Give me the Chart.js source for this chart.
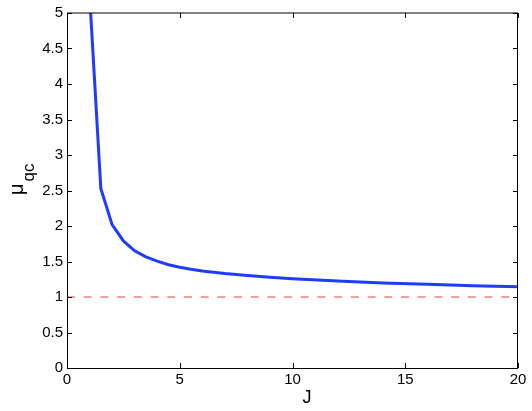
<!DOCTYPE html>
<html><head><meta charset="utf-8">
<script src="https://cdn.jsdelivr.net/npm/chart.js@4/dist/chart.umd.min.js"></script>
<style>html,body{margin:0;padding:0;background:#fff;}canvas{display:block;}</style>
</head><body>
<canvas id="c" width="532" height="411"></canvas>
<script>
// ---- data ----
const jValues  = [1, 1.5, 2, 2.5, 3, 3.5, 4, 4.5, 5, 5.5, 6, 7, 8, 9, 10, 12, 14, 16, 18, 20];
const muValues = [5.27, 2.53, 2.02, 1.79, 1.65, 1.565, 1.505, 1.455, 1.42, 1.39, 1.365, 1.33, 1.303, 1.278, 1.258, 1.225, 1.198, 1.178, 1.16, 1.143];
const refJ  = [0, 20];
const refMu = [1, 1];
const xTicks = [0, 5, 10, 15, 20];
const yTicks = [0, 0.5, 1, 1.5, 2, 2.5, 3, 3.5, 4, 4.5, 5];
const xTitle = 'J';
const yTitleMain = 'μ';
const yTitleSub = 'qc';

const FONT = '"Liberation Sans", Arial, Helvetica, sans-serif';

const toPts = (xs, ys) => xs.map((x, i) => ({x: x, y: ys[i]}));

const framePlugin = {
  id: 'frame',
  afterDraw(chart) {
    const ctx = chart.ctx;
    const a = chart.chartArea;
    const xs = chart.scales.x, ys = chart.scales.y;
    ctx.save();
    ctx.strokeStyle = '#000';
    ctx.lineWidth = 1;
    ctx.beginPath();
    ctx.moveTo(a.left + 0.5, a.top); ctx.lineTo(a.left + 0.5, a.bottom + 1);
    ctx.moveTo(a.left, a.bottom + 0.5); ctx.lineTo(a.right, a.bottom + 0.5);
    ctx.moveTo(a.right - 0.5, a.top); ctx.lineTo(a.right - 0.5, a.bottom + 1);
    ctx.moveTo(a.left, a.top); ctx.lineTo(a.right, a.top);
    ctx.stroke();
    const tl = 5;
    ctx.beginPath();
    xTicks.forEach(v => {
      const px = Math.round(xs.getPixelForValue(v)) + 0.5;
      ctx.moveTo(px, a.bottom); ctx.lineTo(px, a.bottom - tl);
      ctx.moveTo(px, a.top); ctx.lineTo(px, a.top + tl);
    });
    yTicks.forEach(v => {
      const py = Math.round(ys.getPixelForValue(v)) + 0.5;
      ctx.moveTo(a.left, py); ctx.lineTo(a.left + tl, py);
      ctx.moveTo(a.right, py); ctx.lineTo(a.right - tl, py);
    });
    ctx.stroke();
    // axis titles
    ctx.fillStyle = '#000';
    ctx.textAlign = 'center';
    ctx.textBaseline = 'middle';
    ctx.font = '18px ' + FONT;
    ctx.fillText(xTitle, 307, 398);
    ctx.save();
    ctx.translate(23, 195);
    ctx.rotate(-Math.PI / 2);
    ctx.textAlign = 'left';
    ctx.textBaseline = 'alphabetic';
    ctx.font = '20px ' + FONT;
    ctx.fillText(yTitleMain, 0, 0);
    const w = ctx.measureText(yTitleMain).width;
    ctx.font = '17px ' + FONT;
    ctx.fillText(yTitleSub, w + 2, 11);
    ctx.restore();
    ctx.restore();
  }
};

new Chart(document.getElementById('c'), {
  type: 'scatter',
  data: {
    datasets: [
      {
        data: toPts(refJ, refMu),
        showLine: true,
        borderColor: 'rgb(240,128,128)',
        borderWidth: 1.5,
        borderDash: [8, 8.7],
        pointRadius: 0,
        tension: 0,
        clip: 0
      },
      {
        data: toPts(jValues, muValues),
        showLine: true,
        borderColor: '#1e3cff',
        borderWidth: 3,
        pointRadius: 0,
        tension: 0,
        clip: 0
      }
    ]
  },
  options: {
    responsive: false,
    animation: false,
    devicePixelRatio: 1,
    layout: {padding: {top: 12, right: 14, left: 0, bottom: 0}},
    plugins: {legend: {display: false}, tooltip: {enabled: false}},
    scales: {
      x: {
        type: 'linear', min: 0, max: 20,
        afterBuildTicks: s => { s.ticks = xTicks.map(v => ({value: v})); },
        afterFit: s => { s.height = 43; },
        grid: {display: false, drawTicks: false},
        border: {display: false},
        ticks: {
          font: {family: FONT, size: 15}, color: '#000', padding: 3,
          maxRotation: 0, autoSkip: false,
          callback: v => String(v)
        }
      },
      y: {
        type: 'linear', min: 0, max: 5,
        afterBuildTicks: s => { s.ticks = yTicks.map(v => ({value: v})); },
        afterFit: s => { s.width = 67; },
        grid: {display: false, drawTicks: false},
        border: {display: false},
        ticks: {
          font: {family: FONT, size: 15}, color: '#000', padding: 4,
          autoSkip: false,
          callback: v => String(v)
        }
      }
    }
  },
  plugins: [framePlugin]
});
</script>
</body></html>
